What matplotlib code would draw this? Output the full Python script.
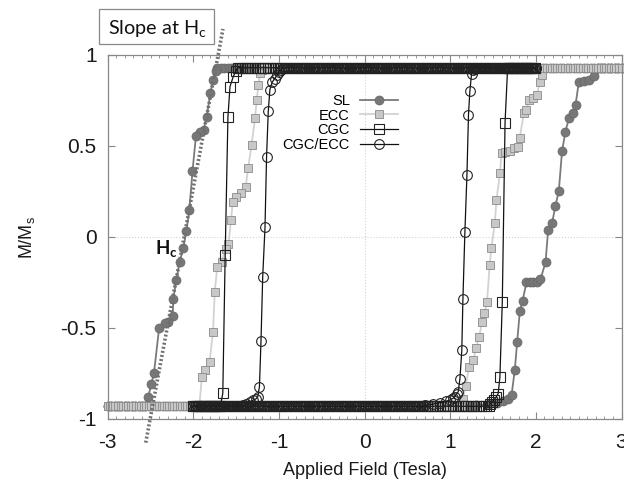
import numpy as np
import matplotlib
matplotlib.use('Agg')
import matplotlib.pyplot as plt
from matplotlib.patches import Rectangle
from matplotlib.ticker import MultipleLocator

plt.rcParams['font.family'] = ['Liberation Sans', 'DejaVu Sans']

# saturation level of M/Ms on the plateaus
SAT = 0.93

# field sweep (max field, step) in Tesla for each sample
SL_SWEEP = (3.0, 0.04)
ECC_SWEEP = (3.0, 0.03)
CGC_SWEEP = (2.0, 0.03)
CGCECC_SWEEP = (2.0, 0.02)

# switching part of the descending branch (field going down)
SL_DN_H = [-1.72, -1.74, -1.77, -1.80, -1.845, -1.88, -1.92, -1.97, -2.01, -2.047, -2.082,
           -2.117, -2.16, -2.20, -2.234, -2.241, -2.30, -2.33, -2.40, -2.46, -2.49, -2.526, -2.56]
SL_DN_M = [0.93, 0.91, 0.865, 0.79, 0.66, 0.59, 0.575, 0.553, 0.36, 0.146, 0.034,
           -0.062, -0.136, -0.239, -0.34, -0.436, -0.465, -0.474, -0.502, -0.749, -0.808, -0.877, -0.93]
# switching part of the ascending branch (field going up)
SL_UP_H = [1.30, 1.45, 1.55, 1.62, 1.68, 1.716, 1.754, 1.781, 1.813, 1.844, 1.89, 1.93, 1.97,
           2.01, 2.054, 2.113, 2.143, 2.19, 2.229, 2.268, 2.306, 2.346, 2.385, 2.435, 2.463,
           2.501, 2.56, 2.618, 2.676, 2.72]
SL_UP_M = [-0.925, -0.92, -0.912, -0.90, -0.888, -0.868, -0.731, -0.579, -0.407, -0.352, -0.25,
           -0.25, -0.25, -0.245, -0.232, -0.139, 0.038, 0.079, 0.172, 0.253, 0.474, 0.579, 0.652,
           0.68, 0.725, 0.85, 0.857, 0.863, 0.885, 0.93]

ECC_DN_H = [-1.18, -1.20, -1.22, -1.24, -1.26, -1.28, -1.32, -1.36, -1.39, -1.44, -1.50, -1.54,
            -1.56, -1.59, -1.62, -1.67, -1.72, -1.75, -1.77, -1.81, -1.86, -1.90, -1.93]
ECC_DN_M = [0.93, 0.915, 0.90, 0.835, 0.753, 0.652, 0.507, 0.377, 0.272, 0.24, 0.222, 0.194,
            0.093, -0.04, -0.066, -0.135, -0.163, -0.30, -0.52, -0.685, -0.731, -0.768, -0.93]
ECC_UP_H = [1.12, 1.15, 1.18, 1.22, 1.27, 1.30, 1.34, 1.37, 1.40, 1.43, 1.46, 1.48, 1.52, 1.54,
            1.58, 1.60, 1.64, 1.70, 1.75, 1.79, 1.81, 1.86, 1.89, 1.92, 1.97, 2.01, 2.05, 2.07, 2.10]
ECC_UP_M = [-0.93, -0.89, -0.82, -0.713, -0.676, -0.612, -0.548, -0.465, -0.419, -0.355, -0.154,
            -0.062, 0.075, 0.203, 0.35, 0.46, 0.469, 0.474, 0.487, 0.496, 0.542, 0.68, 0.698,
            0.753, 0.766, 0.78, 0.853, 0.89, 0.93]

CGC_DN_H = [-1.48, -1.505, -1.534, -1.572, -1.596, -1.628, -1.656, -1.685]
CGC_DN_M = [0.93, 0.91, 0.881, 0.826, 0.66, -0.097, -0.859, -0.93]
CGC_UP_H = [1.46, 1.485, 1.51, 1.535, 1.56, 1.58, 1.608, 1.64, 1.67]
CGC_UP_M = [-0.92, -0.905, -0.896, -0.88, -0.86, -0.77, -0.355, 0.627, 0.93]

CGCECC_DN_H = [-0.95, -0.98, -1.00, -1.02, -1.05, -1.08, -1.106, -1.125, -1.145, -1.163, -1.19,
               -1.21, -1.228, -1.248, -1.27, -1.30, -1.34, -1.38, -1.42]
CGCECC_DN_M = [0.93, 0.92, 0.905, 0.89, 0.87, 0.85, 0.81, 0.69, 0.44, 0.055, -0.22,
               -0.573, -0.822, -0.879, -0.89, -0.896, -0.905, -0.915, -0.925]
CGCECC_UP_H = [0.70, 0.80, 0.88, 0.95, 1.00, 1.034, 1.054, 1.074, 1.093, 1.113, 1.135, 1.148,
               1.171, 1.195, 1.213, 1.229, 1.249, 1.265, 1.29]
CGCECC_UP_M = [-0.925, -0.918, -0.91, -0.903, -0.895, -0.886, -0.877, -0.863, -0.85, -0.78,
               -0.623, -0.342, 0.025, 0.341, 0.67, 0.80, 0.897, 0.915, 0.925]

# hand-drawn slope line through Hc of SL
SLOPE_H = [-2.556, -1.654]
SLOPE_M = [-1.13, 1.143]

XTICKS = [-3, -2, -1, 0, 1, 2, 3]
YTICKS = [-1, -0.5, 0, 0.5, 1]
YTICK_LABELS = ['-1', '-0.5', '0', '0.5', '1']


def loop(sweep, dn_h, dn_m, up_h, up_m):
    hmax, step = sweep
    grid = np.round(np.arange(-hmax, hmax + step / 2, step), 3)
    top = grid[grid > max(dn_h)][::-1]
    bot = grid[grid < min(dn_h)][::-1]
    low = grid[grid < min(up_h)]
    high = grid[grid > max(up_h)]
    h = np.concatenate([top, dn_h, bot, low, up_h, high])
    m = np.concatenate([np.full(len(top), SAT), dn_m, np.full(len(bot), -SAT),
                        np.full(len(low), -SAT), up_m, np.full(len(high), SAT)])
    return h, m


fig = plt.figure(figsize=(6.24, 4.84), dpi=100)
ax = fig.add_axes([0.1726, 0.1343, 0.8234, 0.7521])

ax.axhline(0, color='#d4d4d4', lw=0.8, ls=':', zorder=0)
ax.axvline(0, color='#d4d4d4', lw=0.8, ls=':', zorder=0)

h, m = loop(SL_SWEEP, SL_DN_H, SL_DN_M, SL_UP_H, SL_UP_M)
l1, = ax.plot(h, m, color='#7a7a7a', lw=1.3, marker='o', ms=6.5, mfc='#777777',
              mec='#666666', mew=0.5, clip_on=False, label='SL')
h, m = loop(ECC_SWEEP, ECC_DN_H, ECC_DN_M, ECC_UP_H, ECC_UP_M)
l2, = ax.plot(h, m, color='#d2d2d2', lw=1.3, marker='s', ms=5.8, mfc='#c8c8c8',
              mec='#8a8a8a', mew=0.6, clip_on=False, label='ECC')
h, m = loop(CGC_SWEEP, CGC_DN_H, CGC_DN_M, CGC_UP_H, CGC_UP_M)
l3, = ax.plot(h, m, color='#111111', lw=0.9, marker='s', ms=6.5, mfc='none',
              mec='#222222', mew=0.8, label='CGC')
h, m = loop(CGCECC_SWEEP, CGCECC_DN_H, CGCECC_DN_M, CGCECC_UP_H, CGCECC_UP_M)
l4, = ax.plot(h, m, color='#111111', lw=0.9, marker='o', ms=7, mfc='none',
              mec='#222222', mew=0.8, label='CGC/ECC')

ax.plot(SLOPE_H, SLOPE_M, color='#707070', lw=2.6, ls=(0, (0.55, 0.6)),
        clip_on=False, zorder=5)

ax.set_xlim(-3, 3)
ax.set_ylim(-1, 1)
ax.set_xticks(XTICKS)
ax.set_xticklabels([str(t) for t in XTICKS])
ax.set_yticks(YTICKS)
ax.set_yticklabels(YTICK_LABELS)
ax.xaxis.set_minor_locator(MultipleLocator(0.1))
ax.tick_params(which='both', direction='in', top=True, right=True, color='#888888',
               labelsize=15, labelcolor='#1a1a1a')
ax.tick_params(which='major', length=5, width=0.8)
ax.tick_params(which='minor', length=2.5, width=0.6)
ax.tick_params(axis='y', pad=8)
ax.tick_params(axis='x', pad=10)
for s in ax.spines.values():
    s.set_color('#888888')
    s.set_linewidth(0.9)

ax.set_xlabel('Applied Field (Tesla)', fontsize=13, color='#1a1a1a')
ax.xaxis.set_label_coords(0.5, -0.118)
ax.set_ylabel(r'M/M$_\mathregular{s}$', fontsize=13, color='#1a1a1a')
ax.yaxis.set_label_coords(-0.138, 0.5)

leg = ax.legend(handles=[l1, l2, l3, l4], loc='upper right', markerfirst=False,
                frameon=False, fontsize=10.5, numpoints=1, handlelength=2.6,
                handletextpad=0.7, labelspacing=0.04, borderpad=0, borderaxespad=0,
                bbox_to_anchor=(398 / 624, 1 - 94 / 484), bbox_transform=fig.transFigure)
for col in leg._legend_handle_box.get_children():
    col.align = 'right'

ax.text(-2.448, -0.099, r'H$_\mathregular{c}$', fontsize=13.5, family='Lato',
        fontweight='bold', ha='left', va='baseline', color='#111111')

fig.text(108 / 624, 1 - 35 / 484, r'Slope at H$_\mathregular{c}$', fontsize=14.3,
         family='Lato', ha='left', va='baseline', color='#111111')
fig.patches.append(Rectangle((99 / 624, 1 - 44 / 484), 115 / 624, 35 / 484,
                             transform=fig.transFigure, fill=False, ec='#888888', lw=0.9))

fig.savefig('out.png', dpi=100)
